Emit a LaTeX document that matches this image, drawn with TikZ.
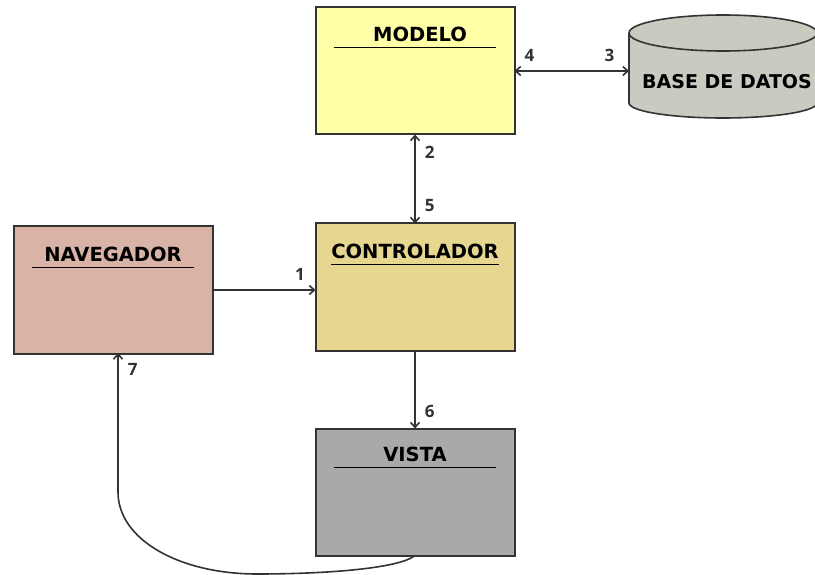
\documentclass[tikz,border=0pt]{standalone}
\usepackage{fontspec}
\setmainfont{DejaVu Sans}
\newfontfamily\numfont{Open Sans}
\usetikzlibrary{arrows.meta}
\usetikzlibrary{positioning}
\definecolor{amarillo}{HTML}{FFFFA8}
\definecolor{arena}{HTML}{E6D690}
\definecolor{rosado}{HTML}{D8B3A6}
\definecolor{gris}{HTML}{A9A9A9}
\definecolor{verdoso}{HTML}{C8CBC0}
\definecolor{trazo}{HTML}{333333}
\begin{document}
\begin{tikzpicture}[x=1pt,y=1pt,<->,>={Straight Barb[length=5pt,width=9pt]},auto,line width=1.6pt,draw=trazo,
	main node/.style={rectangle,draw=trazo,line width=2pt,minimum width=199pt,minimum height=127pt,inner sep=0pt,outer sep=0pt},
	title node/.style={minimum width=162pt,minimum height=22pt,text depth=4pt,inner sep=0pt,outer sep=0pt,font=\fontsize{19.5}{22}\selectfont\bfseries},
	num node/.style={font=\numfont\fontsize{17}{19}\selectfont\bfseries,text=black!80,inner sep=9pt}]

	\useasboundingbox (0,0) rectangle (815,-575);

	\node[main node,fill=amarillo] (modelo) at (415,-71) {};
	\node[main node,fill=arena] (controlador) [below=89pt of modelo] {};
	\node[main node,fill=gris] (vista) [below=78pt of controlador] {};
	\node[main node,fill=rosado] (navegador) [left=103pt of controlador,yshift=-3pt] {};

	% base de datos
	\path[-,draw=trazo,fill=verdoso] (629,-33) -- (629,-103) arc[start angle=180,end angle=360,x radius=94,y radius=15] -- (817,-33) arc[start angle=0,end angle=180,x radius=94,y radius=18] -- cycle;
	\path[-,draw=trazo] (629,-33) arc[start angle=180,end angle=360,x radius=94,y radius=18];
	\coordinate (cuerpo) at (629,-33);
	\node[font=\fontsize{19}{22}\selectfont\bfseries,inner sep=0pt] (datos) at (727,-82) {BASE DE DATOS};

	\node[title node,below=18pt of modelo.north] (tmodelo) {\hspace*{10pt}MODELO};
	\node[title node,below=19pt of controlador.north] (tcontrolador) {CONTROLADOR};
	\node[title node,below=19pt of navegador.north] (tnavegador) {NAVEGADOR};
	\node[title node,below=17pt of vista.north] (tvista) {VISTA};

	\foreach \t in {tmodelo,tcontrolador,tnavegador,tvista}
		\draw[-,black] (\t.south west) -- (\t.south east);

	\coordinate (llegada) at (118,-353);
	\coordinate (recto) at (118,-492);
	\coordinate (fondo) at (257,-574);

	\path[every node/.style={num node}]
		(modelo.east) edge[] node[pos=0.13] {4} node[pos=0.83] {3} (modelo.east -| cuerpo)
		(modelo) edge[] node[pos=0.2] {2} node[pos=0.8] {5} (controlador)
		(navegador.east) edge[->] node[pos=0.85] {1} (navegador.east -| controlador.west)
		(controlador) edge[->] node[pos=0.78] {6} (vista)
	;

	\draw[->] (vista.south) .. controls (400,-568) and (330,-574) .. (fondo)
		.. controls (180,-574) and (118,-540) .. (recto)
		-- node[pos=0.88,swap,num node] (siete) {7} (llegada);
\end{tikzpicture}
\end{document}
